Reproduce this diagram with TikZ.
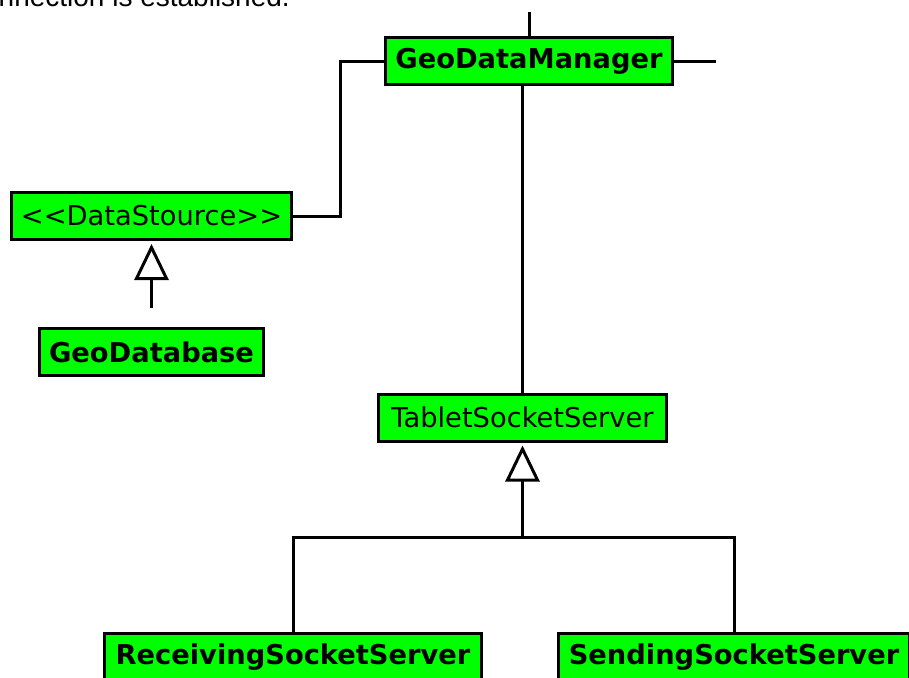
\documentclass[tikz,border=0pt]{standalone}
\usepackage{fontspec}
\setmainfont{DejaVu Sans}
\newfontfamily\notefont{Liberation Sans}
\usetikzlibrary{arrows.meta}

\definecolor{boxgreen}{RGB}{0,255,0}

\begin{document}
\begin{tikzpicture}[x=1pt, y=-1pt,
	box/.style={draw=black, line width=3pt, fill=boxgreen, minimum height=47pt,
		inner sep=0pt, font=\fontsize{27.3}{31}\selectfont},
	boldbox/.style={box, font=\fontsize{27.3}{31}\selectfont\bfseries},
	conn/.style={black, line width=3pt},
	inherit/.style={conn, -{Triangle[open, length=36pt, width=34pt, line width=3pt]}, shorten >=3pt}]
	
	\useasboundingbox (0,0) rectangle (909,677);
	\clip (0,0) rectangle (909,677);
	
	% cut-off line of text above the picture
	\node[anchor=base east, inner sep=0pt, font=\notefont\fontsize{28}{32}\selectfont] (note) at (290,7) {connection is established.};
	
	% classes
	\node[boldbox, minimum width=287pt] (gdm) at (529,61) {GeoDataManager};
	\node[box, minimum width=280pt] (ds) at (151.5,216) {{<}{<}DataStource{>}{>}};
	\node[boldbox, minimum width=224pt] (gdb) at (151.5,352) {GeoDatabase};
	\node[box, minimum width=288pt] (tss) at (522.5,417.5) {TabletSocketServer};
	\node[boldbox, minimum width=377pt] (rss) at (293,657) {ReceivingSocketServer};
	\node[boldbox, minimum width=351pt] (sss) at (734,657) {SendingSocketServer};
	
	\coordinate (topend) at (529,12);
	\coordinate (rightend) at (716,61);
	\coordinate (dsbend) at (340,61);
	\coordinate (split) at (522.5,537);
	
	% associations
	\draw[conn] (gdm.north) -- (topend);
	\draw[conn] (gdm.east) -- (rightend);
	\draw[conn] (gdm.west) -- (dsbend) |- (ds.east);
	\draw[conn] (gdm.south -| tss.north) -- (tss.north);
	
	% inheritance
	\draw[inherit, shorten <=19pt] (gdb.north) -- (ds.south);
	\draw[conn] (rss.north) |- (split) -| (sss.north);
	\draw[inherit] (split) -- (tss.south);
	
\end{tikzpicture}
\end{document}
